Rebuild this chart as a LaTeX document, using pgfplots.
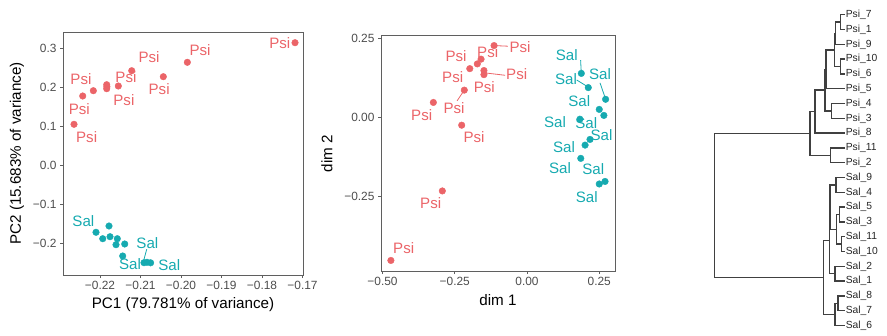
\documentclass[border=0pt]{standalone}
\usepackage{pgfplots}
\pgfplotsset{compat=1.18}
\usepackage{fontspec}
\setmainfont{Liberation Sans}
\definecolor{psi}{RGB}{235,100,104}
\definecolor{sal}{RGB}{22,170,176}
\definecolor{axgray}{RGB}{95,95,95}
\definecolor{tickgray}{RGB}{77,77,77}
\newcommand{\tfont}{\fontsize{11.9}{13}\selectfont}
\newcommand{\lfont}{\fontsize{15.2}{17}\selectfont}
\newcommand{\pfont}{\fontsize{15.1}{17}\selectfont}
\newcommand{\dfont}{\fontsize{10.3}{11}\selectfont}
\pgfplotsset{
  panel/.style={scale only axis, clip=false,
    axis line style={axgray, line width=1pt},
    every tick/.style={axgray, line width=0.8pt},
    tick align=outside, major tick length=3pt,
    xtick pos=bottom, ytick pos=left,
    tick label style={font=\tfont, text=tickgray}},
  psimk/.style={only marks, mark=*, mark size=3.3pt, psi, mark options={draw=none, fill=psi}},
  salmk/.style={only marks, mark=*, mark size=3.3pt, sal, mark options={draw=none, fill=sal}},
  dend/.style={black!75, line width=1.4pt, no marks},
}
\begin{document}
\begin{tikzpicture}
\useasboundingbox (0pt,0pt) rectangle (887pt,-335pt);
% ---------------- Panel 1: PCA ----------------
\begin{axis}[panel, at={(63pt,-275pt)}, anchor=south west, width=240pt, height=243pt,
  xmin=-0.22914, xmax=-0.16988, ymin=-0.2813, ymax=0.3418,
  xtick={-0.22,-0.21,-0.20,-0.19,-0.18,-0.17},
  xticklabels={−0.22,−0.21,−0.20,−0.19,−0.18,−0.17},
  ytick={-0.2,-0.1,0,0.1,0.2,0.3},
  yticklabels={−0.2,−0.1,0.0,0.1,0.2,0.3}]
\addplot[psimk] coordinates {
(-0.17185,0.31436) (-0.19844,0.26410) (-0.20437,0.22718) (-0.21217,0.24256)
(-0.21548,0.20333) (-0.21835,0.20667) (-0.21835,0.19641) (-0.22165,0.19128)
(-0.22427,0.17769) (-0.22642,0.10513) (-0.21830,0.20150)};
\addplot[salmk] coordinates {
(-0.21778,-0.15564) (-0.22099,-0.17179) (-0.21933,-0.18821) (-0.21753,-0.18308)
(-0.21573,-0.18821) (-0.21605,-0.20359) (-0.21390,-0.20179) (-0.21440,-0.23256)
(-0.20914,-0.24974) (-0.20751,-0.25000) (-0.20840,-0.24870)};
\draw[sal, line width=0.8pt] (axis cs:-0.20847,-0.2154) -- (axis cs:-0.20914,-0.2410);
\begin{scope}[every node/.style={font=\pfont, inner sep=0pt}]
\node[text=psi] at (axis cs:-0.1756,0.3128) {Psi};
\node[text=psi] at (axis cs:-0.1953,0.2956) {Psi};
\node[text=psi] at (axis cs:-0.2079,0.2785) {Psi};
\node[text=psi] at (axis cs:-0.2136,0.2256) {Psi};
\node[text=psi] at (axis cs:-0.2054,0.1949) {Psi};
\node[text=psi] at (axis cs:-0.2141,0.1674) {Psi};
\node[text=psi] at (axis cs:-0.2247,0.2220) {Psi};
\node[text=psi] at (axis cs:-0.2251,0.1451) {Psi};
\node[text=psi] at (axis cs:-0.2233,0.0733) {Psi};
\node[text=sal] at (axis cs:-0.2241,-0.1428) {Sal};
\node[text=sal] at (axis cs:-0.2083,-0.1985) {Sal};
\node[text=sal] at (axis cs:-0.2126,-0.2538) {Sal};
\node[text=sal] at (axis cs:-0.2029,-0.2556) {Sal};
\end{scope}
\end{axis}
\node[font=\lfont, rotate=90] at (17pt,-153.5pt) {PC2 (15.683\% of variance)};
\node[font=\lfont] at (183pt,-305pt) {PC1 (79.781\% of variance)};
% ---------------- Panel 2: MDS ----------------
\begin{axis}[panel, at={(381pt,-271pt)}, anchor=south west, width=234pt, height=235pt,
  xmin=-0.5052, xmax=0.3045, ymin=-0.4864, ymax=0.2573,
  xtick={-0.5,-0.25,0,0.25}, xticklabels={−0.50,−0.25,0.00,0.25},
  ytick={-0.25,0,0.25}, yticklabels={−0.25,0.00,0.25},
  xtick pos=bottom, ytick pos=left]
\addplot[psimk] coordinates {
(-0.114,0.227) (-0.159,0.184) (-0.172,0.169) (-0.198,0.154) (-0.149,0.148)
(-0.149,0.135) (-0.217,0.086) (-0.324,0.047) (-0.226,-0.025) (-0.293,-0.233)
(-0.471,-0.453)};
\addplot[salmk] coordinates {
(0.188,0.139) (0.212,0.094) (0.272,0.057) (0.250,0.025) (0.266,0.006)
(0.183,-0.006) (0.218,-0.070) (0.201,-0.088) (0.186,-0.130) (0.250,-0.211)
(0.270,-0.203)};
\draw[psi, line width=0.8pt] (axis cs:-0.114,0.227) -- (axis cs:-0.066,0.225);
\draw[psi, line width=0.8pt] (axis cs:-0.149,0.141) -- (axis cs:-0.076,0.133);
\draw[psi, line width=0.8pt] (axis cs:-0.217,0.086) -- (axis cs:-0.242,0.052);
\draw[sal, line width=0.8pt] (axis cs:0.1855,0.1810) -- (axis cs:0.1876,0.1440);
\draw[sal, line width=0.8pt] (axis cs:0.1720,0.1180) -- (axis cs:0.2060,0.0990);
\draw[sal, line width=0.8pt] (axis cs:0.2526,0.1090) -- (axis cs:0.2700,0.0630);
\begin{scope}[every node/.style={font=\pfont, inner sep=0pt}]
\node[text=psi] at (axis cs:-0.2457,0.1940) {Psi};
\node[text=psi] at (axis cs:-0.1360,0.2076) {Psi};
\node[text=psi] at (axis cs:-0.0242,0.2234) {Psi};
\node[text=psi] at (axis cs:-0.2571,0.1266) {Psi};
\node[text=psi] at (axis cs:-0.0356,0.1370) {Psi};
\node[text=psi] at (axis cs:-0.1478,0.0949) {Psi};
\node[text=psi] at (axis cs:-0.2526,0.0285) {Psi};
\node[text=psi] at (axis cs:-0.3644,0.0073) {Psi};
\node[text=psi] at (axis cs:-0.1834,-0.0633) {Psi};
\node[text=psi] at (axis cs:-0.3332,-0.2722) {Psi};
\node[text=psi] at (axis cs:-0.4266,-0.4146) {Psi};
\node[text=sal] at (axis cs:0.1374,0.1972) {Sal};
\node[text=sal] at (axis cs:0.1350,0.1212) {Sal};
\node[text=sal] at (axis cs:0.2526,0.1361) {Sal};
\node[text=sal] at (axis cs:0.1810,0.0516) {Sal};
\node[text=sal] at (axis cs:0.0969,-0.0139) {Sal};
\node[text=sal] at (axis cs:0.2050,-0.0170) {Sal};
\node[text=sal] at (axis cs:0.2580,-0.0560) {Sal};
\node[text=sal] at (axis cs:0.1280,-0.0930) {Sal};
\node[text=sal] at (axis cs:0.1142,-0.1595) {Sal};
\node[text=sal] at (axis cs:0.2294,-0.1646) {Sal};
\node[text=sal] at (axis cs:0.2066,-0.2532) {Sal};
\end{scope}
\end{axis}
\node[font=\lfont, rotate=90] at (327pt,-153.5pt) {dim 2};
\node[font=\lfont] at (498pt,-300pt) {dim 1};
% ---------------- Panel 3: dendrogram ----------------
\begin{axis}[at={(700pt,-335pt)}, anchor=south west, scale only axis,
  width=187pt, height=335pt, xmin=700, xmax=887, ymin=0, ymax=335,
  y dir=reverse, hide axis, clip=false]
\addplot[dend] coordinates {(845,14.7)(840.7,14.7)(840.7,29.5)(845,29.5)};
\addplot[dend] coordinates {(840.7,22.1)(835.5,22.1)(835.5,44.3)(845,44.3)};
\addplot[dend] coordinates {(845,59.1)(840.7,59.1)(840.7,73.9)(845,73.9)};
\addplot[dend] coordinates {(835.5,33.2)(834.3,33.2)(834.3,66.5)(840.7,66.5)};
\addplot[dend] coordinates {(834.3,49.85)(826,49.85)(826,88.7)(845,88.7)};
\addplot[dend] coordinates {(845,103.5)(831.7,103.5)(831.7,118.3)(845,118.3)};
\addplot[dend] coordinates {(826,69.3)(825,69.3)(825,110.9)(831.7,110.9)};
\addplot[dend] coordinates {(825,90.1)(815,90.1)(815,133.1)(845,133.1)};
\addplot[dend] coordinates {(845,147.9)(830.7,147.9)(830.7,162.7)(845,162.7)};
\addplot[dend] coordinates {(815,111.6)(810,111.6)(810,155.3)(830.7,155.3)};
\addplot[dend] coordinates {(845,177.5)(836,177.5)(836,192.3)(845,192.3)};
\addplot[dend] coordinates {(845,207.1)(839.3,207.1)(839.3,221.9)(845,221.9)};
\addplot[dend] coordinates {(845,236.7)(841.7,236.7)(841.7,251.5)(845,251.5)};
\addplot[dend] coordinates {(839.3,214.5)(836.7,214.5)(836.7,244.1)(841.7,244.1)};
\addplot[dend] coordinates {(836,184.9)(830,184.9)(830,229.3)(836.7,229.3)};
\addplot[dend] coordinates {(845,266.3)(835,266.3)(835,281.1)(845,281.1)};
\addplot[dend] coordinates {(830,207.1)(829.3,207.1)(829.3,273.7)(835,273.7)};
\addplot[dend] coordinates {(845,295.9)(838,295.9)(838,310.7)(845,310.7)};
\addplot[dend] coordinates {(838,303.3)(835,303.3)(835,325.5)(845,325.5)};
\addplot[dend] coordinates {(829.3,240.4)(823.3,240.4)(823.3,314.4)(835,314.4)};
\addplot[dend] coordinates {(810,133.45)(714.3,133.45)(714.3,277.4)(823.3,277.4)};
\begin{scope}[every node/.style={font=\dfont, anchor=west, inner sep=0.6pt, text=black!85}]
\node at (axis cs:845,14.7) {Psi\_7};
\node at (axis cs:845,29.5) {Psi\_1};
\node at (axis cs:845,44.3) {Psi\_9};
\node at (axis cs:845,59.1) {Psi\_10};
\node at (axis cs:845,73.9) {Psi\_6};
\node at (axis cs:845,88.7) {Psi\_5};
\node at (axis cs:845,103.5) {Psi\_4};
\node at (axis cs:845,118.3) {Psi\_3};
\node at (axis cs:845,133.1) {Psi\_8};
\node at (axis cs:845,147.9) {Psi\_11};
\node at (axis cs:845,162.7) {Psi\_2};
\node at (axis cs:845,177.5) {Sal\_9};
\node at (axis cs:845,192.3) {Sal\_4};
\node at (axis cs:845,207.1) {Sal\_5};
\node at (axis cs:845,221.9) {Sal\_3};
\node at (axis cs:845,236.7) {Sal\_11};
\node at (axis cs:845,251.5) {Sal\_10};
\node at (axis cs:845,266.3) {Sal\_2};
\node at (axis cs:845,281.1) {Sal\_1};
\node at (axis cs:845,295.9) {Sal\_8};
\node at (axis cs:845,310.7) {Sal\_7};
\node at (axis cs:845,325.5) {Sal\_6};
\end{scope}
\end{axis}
\end{tikzpicture}
\end{document}
